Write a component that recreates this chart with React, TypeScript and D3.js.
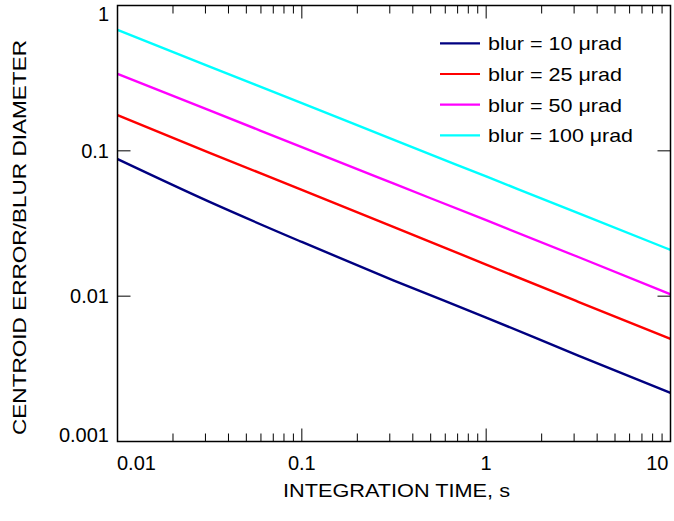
import React from "react";
import * as d3 from "d3";

const times = [0.01, 0.0316, 0.1, 0.316, 1, 3.16, 10];
const blur10 = [0.0877, 0.0445, 0.0236, 0.0128, 0.00713, 0.0039, 0.00216];
const blur25 = [0.176, 0.0969, 0.0539, 0.0299, 0.0165, 0.00915, 0.00508];
const blur50 = [0.338, 0.19, 0.106, 0.0594, 0.0333, 0.0186, 0.0103];
const blur100 = [0.68, 0.38, 0.213, 0.119, 0.0666, 0.0373, 0.0208];

const seriesNames = ["blur = 10 μrad", "blur = 25 μrad", "blur = 50 μrad", "blur = 100 μrad"];
const seriesColors = ["#000080", "#ff0000", "#ff00ff", "#00ffff"];
const seriesValues = [blur10, blur25, blur50, blur100];

const xMajorTicks = [0.01, 0.1, 1, 10];
const xTickLabels = ["0.01", "0.1", "1", "10"];
const yMajorTicks = [0.001, 0.01, 0.1, 1];
const yTickLabels = ["0.001", "0.01", "0.1", "1"];

const xTitle = "INTEGRATION TIME, s";
const yTitle = "CENTROID ERROR/BLUR DIAMETER";

const W = 674;
const H = 521;
const L = 117.5, R = 670.5, T = 5.5, B = 441.5;
const FONT = "'Liberation Sans', Arial, Helvetica, sans-serif";

export default function App() {
  const x = d3.scaleLog().domain([0.01, 10]).range([L, R]);
  const y = d3.scaleLog().domain([0.001, 1]).range([B, T]);

  const minorX: number[] = [];
  for (const dec of [0.01, 0.1, 1]) {
    for (let k = 2; k <= 9; k++) minorX.push(dec * k);
  }

  const line = d3
    .line<number>()
    .x((_, i) => x(times[i]))
    .y((d) => y(d))
    .curve(d3.curveMonotoneX);

  const legendY = (i: number) => 43.3 + i * 30.7;
  const legendLen = [134, 134, 134, 145];

  return (
    <svg
      width={W}
      height={H}
      style={{ position: "absolute", left: 0, top: 0, background: "#fff" }}
      fontFamily={FONT}
    >
      <rect x={0} y={0} width={W} height={H} fill="#fff" />
      {seriesValues.map((vals, i) => (
        <path
          key={i}
          d={line(vals) || ""}
          fill="none"
          stroke={seriesColors[i]}
          strokeWidth={2.4}
          strokeLinejoin="round"
        />
      ))}
      <rect x={L} y={T} width={R - L} height={B - T} fill="none" stroke="#000" strokeWidth={1.5} />
      {minorX.map((v, i) => (
        <g key={"mx" + i}>
          <line x1={x(v)} x2={x(v)} y1={B} y2={B - 8} stroke="#000" strokeWidth={1} />
          <line x1={x(v)} x2={x(v)} y1={T} y2={T + 8} stroke="#000" strokeWidth={1} />
        </g>
      ))}
      {xMajorTicks.map((v, i) => (
        <g key={"Mx" + i}>
          <line x1={x(v)} x2={x(v)} y1={B} y2={B - 13} stroke="#000" strokeWidth={1} />
          <line x1={x(v)} x2={x(v)} y1={T} y2={T + 13} stroke="#000" strokeWidth={1} />
          <text
            x={i === 0 ? L - 0.5 : i === xMajorTicks.length - 1 ? R - 2 : x(v)}
            y={470}
            fontSize={20}
            textAnchor={i === 0 ? "start" : i === xMajorTicks.length - 1 ? "end" : "middle"}
            fill="#000"
          >
            {xTickLabels[i]}
          </text>
        </g>
      ))}
      {yMajorTicks.map((v, i) => {
        let cy = y(v);
        if (i === 0) cy = 435;
        if (i === yMajorTicks.length - 1) cy = 13.3;
        return (
          <g key={"My" + i}>
            <line x1={L} x2={L + 13} y1={y(v)} y2={y(v)} stroke="#000" strokeWidth={1} />
            <line x1={R} x2={R - 13} y1={y(v)} y2={y(v)} stroke="#000" strokeWidth={1} />
            <text x={109} y={cy + 7.2} fontSize={20} textAnchor="end" fill="#000">
              {yTickLabels[i]}
            </text>
          </g>
        );
      })}
      {seriesNames.map((name, i) => (
        <g key={"lg" + i}>
          <line
            x1={440}
            x2={480}
            y1={legendY(i)}
            y2={legendY(i)}
            stroke={seriesColors[i]}
            strokeWidth={2.2}
          />
          <text
            x={488}
            y={legendY(i) + 6.8}
            fontSize={19}
            fill="#000"
            textLength={legendLen[i]}
            lengthAdjust="spacingAndGlyphs"
          >
            {name}
          </text>
        </g>
      ))}
      <text
        x={396.5}
        y={497}
        fontSize={19}
        textAnchor="middle"
        fill="#000"
        textLength={227}
        lengthAdjust="spacingAndGlyphs"
      >
        {xTitle}
      </text>
      <text
        transform="translate(26,237.5) rotate(-90)"
        fontSize={19}
        textAnchor="middle"
        fill="#000"
        textLength={395}
        lengthAdjust="spacingAndGlyphs"
      >
        {yTitle}
      </text>
    </svg>
  );
}
